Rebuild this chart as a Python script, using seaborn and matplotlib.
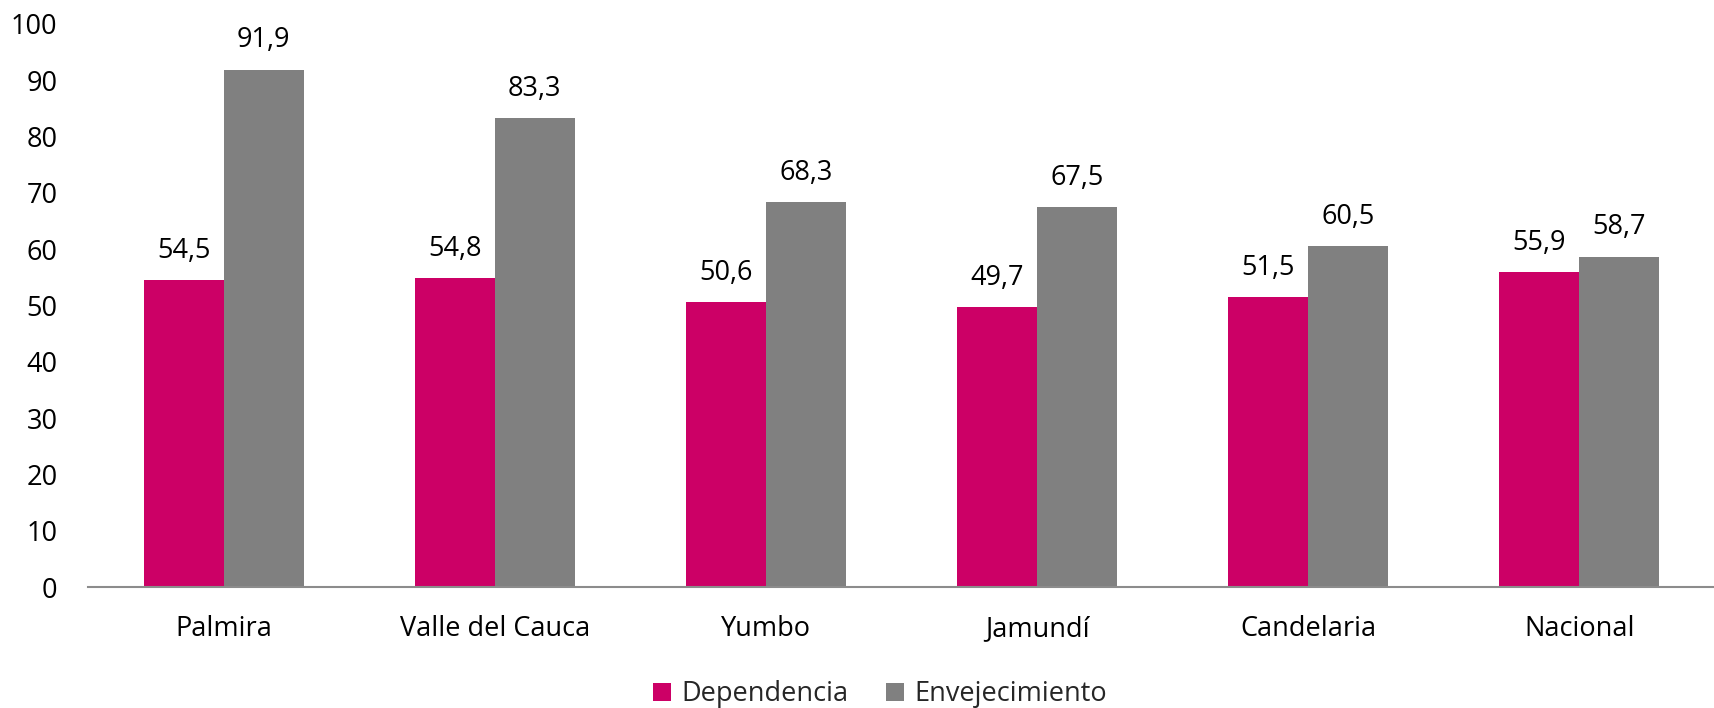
import matplotlib
matplotlib.use("Agg")
import matplotlib.pyplot as plt
import seaborn as sns
import pandas as pd
from matplotlib.patches import Patch

categories = ["Palmira", "Valle del Cauca", "Yumbo", "Jamundí", "Candelaria", "Nacional"]
dependencia = [54.5, 54.8, 50.6, 49.7, 51.5, 55.9]
envejecimiento = [91.9, 83.3, 68.3, 67.5, 60.5, 58.7]
series_names = ["Dependencia", "Envejecimiento"]
colors = ["#CC0066", "#808080"]
yticks = [0, 10, 20, 30, 40, 50, 60, 70, 80, 90, 100]

df = pd.DataFrame({
    "cat": categories * 2,
    "val": dependencia + envejecimiento,
    "serie": [series_names[0]] * len(categories) + [series_names[1]] * len(categories),
})

sns.set_theme(style="white")
plt.rcParams["font.family"] = ["Open Sans", "DejaVu Sans"]
FS = 19.5

fig = plt.figure(figsize=(17.15, 7.08), dpi=100)
ax = fig.add_axes([88 / 1715, 121 / 708, 1 - 88 / 1715, (587 - 24) / 708])

sns.barplot(data=df, x="cat", y="val", hue="serie", palette=colors, width=0.59,
            gap=0, saturation=1, ax=ax, legend=False, errorbar=None, linewidth=0)

for cont in ax.containers:
    for bar in cont:
        h = bar.get_height()
        ax.annotate(f"{h:.1f}".replace(".", ","), (bar.get_x() + bar.get_width() / 2, h),
                    xytext=(0, 11), textcoords="offset points", ha="center", va="bottom",
                    fontsize=FS, color="#000000")

ax.set_ylim(0, 100)
ax.set_xlim(-0.5, 5.5)
ax.set_yticks(yticks)
ax.set_yticklabels([str(t) for t in yticks])
ax.set_xlabel("")
ax.set_ylabel("")
ax.tick_params(axis="both", length=0, labelsize=FS, colors="#000000")
ax.tick_params(axis="y", pad=22)
ax.tick_params(axis="x", pad=20)
for s in ["top", "right", "left"]:
    ax.spines[s].set_visible(False)
ax.spines["bottom"].set_color("#8C8C8C")
ax.spines["bottom"].set_linewidth(1.5)

handles = [Patch(facecolor=c, edgecolor="none", label=n) for c, n in zip(colors, series_names)]
fig.legend(handles=handles, loc="lower center", bbox_to_anchor=(0.513, -0.035), ncol=2, frameon=False,
           fontsize=FS, handlelength=0.68, handleheight=0.68, handletextpad=0.35, columnspacing=1.4)

fig.savefig("out.png", dpi=100)
